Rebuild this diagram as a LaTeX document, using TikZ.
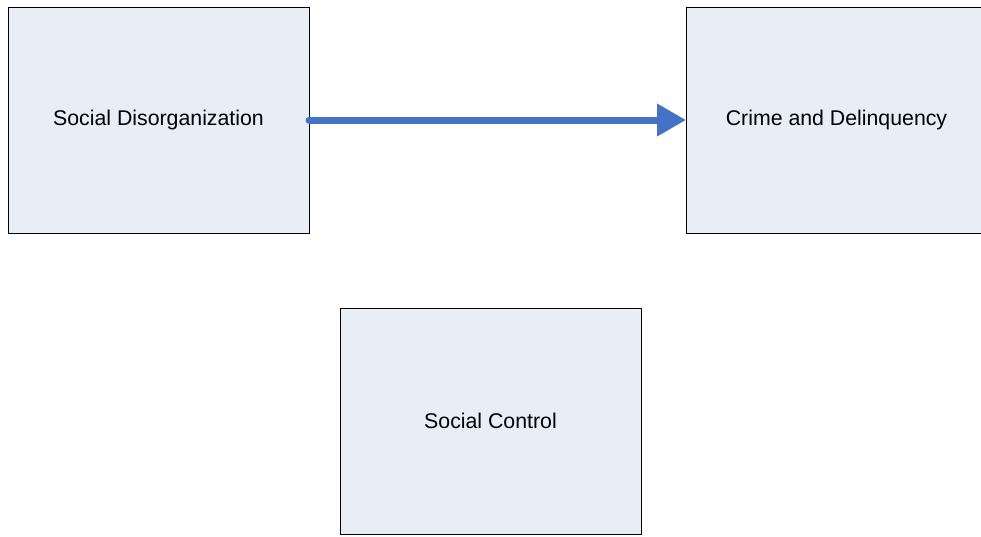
\documentclass[tikz,border=0pt]{standalone}
\usepackage{fontspec}
\setmainfont{Liberation Sans}
\usepackage{xcolor}
\usetikzlibrary{arrows.meta}

\definecolor{boxfill}{HTML}{E8EEF7}
\definecolor{arrblue}{HTML}{4472C4}

\begin{document}
\begin{tikzpicture}[
	x=1pt, y=-1pt,
	box/.style={
		draw=black, line width=0.9pt, rectangle, fill=boxfill,
		minimum width=301pt, minimum height=226pt,
		font=\fontsize{21.3}{25}\selectfont, align=center,
		inner sep=0pt, outer sep=0pt
	},
	arr/.style={-{Triangle[length=29pt,width=31pt]}, line width=7pt,
		line cap=round, draw=arrblue},
	]
	\useasboundingbox (0,0) rectangle (981,536);
	\node[box] (disorg)  at (158.5, 120) {Social Disorganization};
	\node[box] (crime)   at (836.5, 120) {Crime and Delinquency};
	\node[box] (control) at (490.5, 421) {Social Control};
	\draw[arr] (disorg.east) -- (crime.west);
\end{tikzpicture}
\end{document}
